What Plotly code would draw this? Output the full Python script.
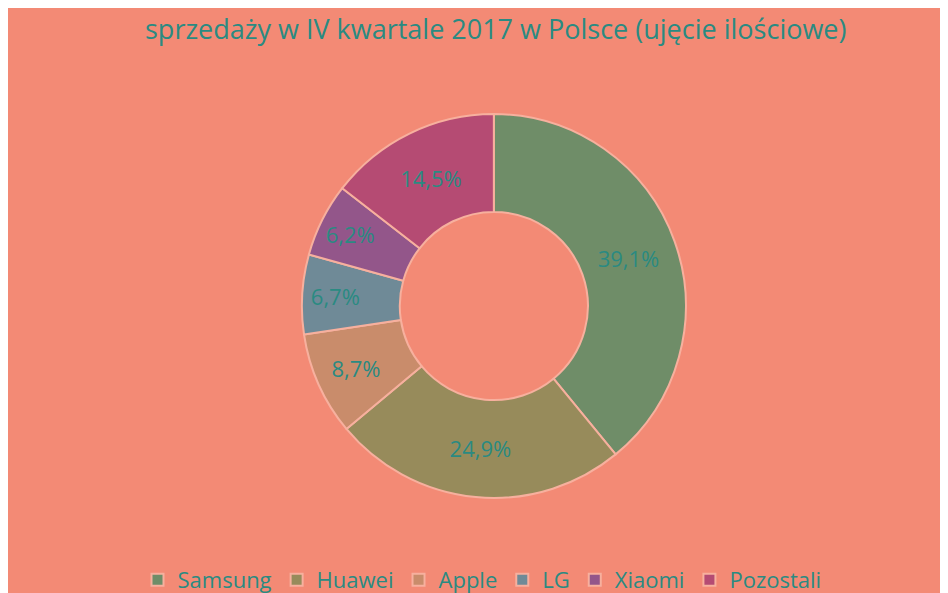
import plotly.graph_objects as go

labels = ["Samsung", "Huawei", "Apple", "LG", "Xiaomi", "Pozostali"]
values = [39.1, 24.9, 8.7, 6.7, 6.2, 14.5]
colors = ["#6f8d68", "#978b5b", "#c98c6b", "#6f8a97", "#93568a", "#b54b73"]
text_labels = ["39,1%", "24,9%", "8,7%", "6,7%", "6,2%", "14,5%"]

fig = go.Figure(go.Pie(
    labels=labels, values=values, text=text_labels, textinfo="text",
    hole=0.49, sort=False, direction="clockwise", rotation=0,
    marker=dict(colors=colors, line=dict(color="#f7b09e", width=2)),
    textfont=dict(family="Open Sans", size=22, color="#2a8a82"),
    insidetextorientation="horizontal",
    domain=dict(x=[0.31, 0.715], y=[0.16, 0.835]),
))
fig.add_annotation(text="sprzedaży w IV kwartale 2017 w Polsce (ujęcie ilościowe)",
                   xref="paper", yref="paper", x=0.515, y=1.0, yanchor="top",
                   showarrow=False, font=dict(family="Open Sans", size=27, color="#2a8a82"))
fig.update_layout(
    width=948, height=593, paper_bgcolor="#f38a75", plot_bgcolor="#f38a75",
    margin=dict(l=0, r=0, t=0, b=0),
    legend=dict(orientation="h", x=0.5, xanchor="center", y=0.0, yanchor="bottom",
                font=dict(family="Open Sans", size=22, color="#2a8a82"), traceorder="normal"),
)
fig.write_html("out.html", config={"responsive": True})
